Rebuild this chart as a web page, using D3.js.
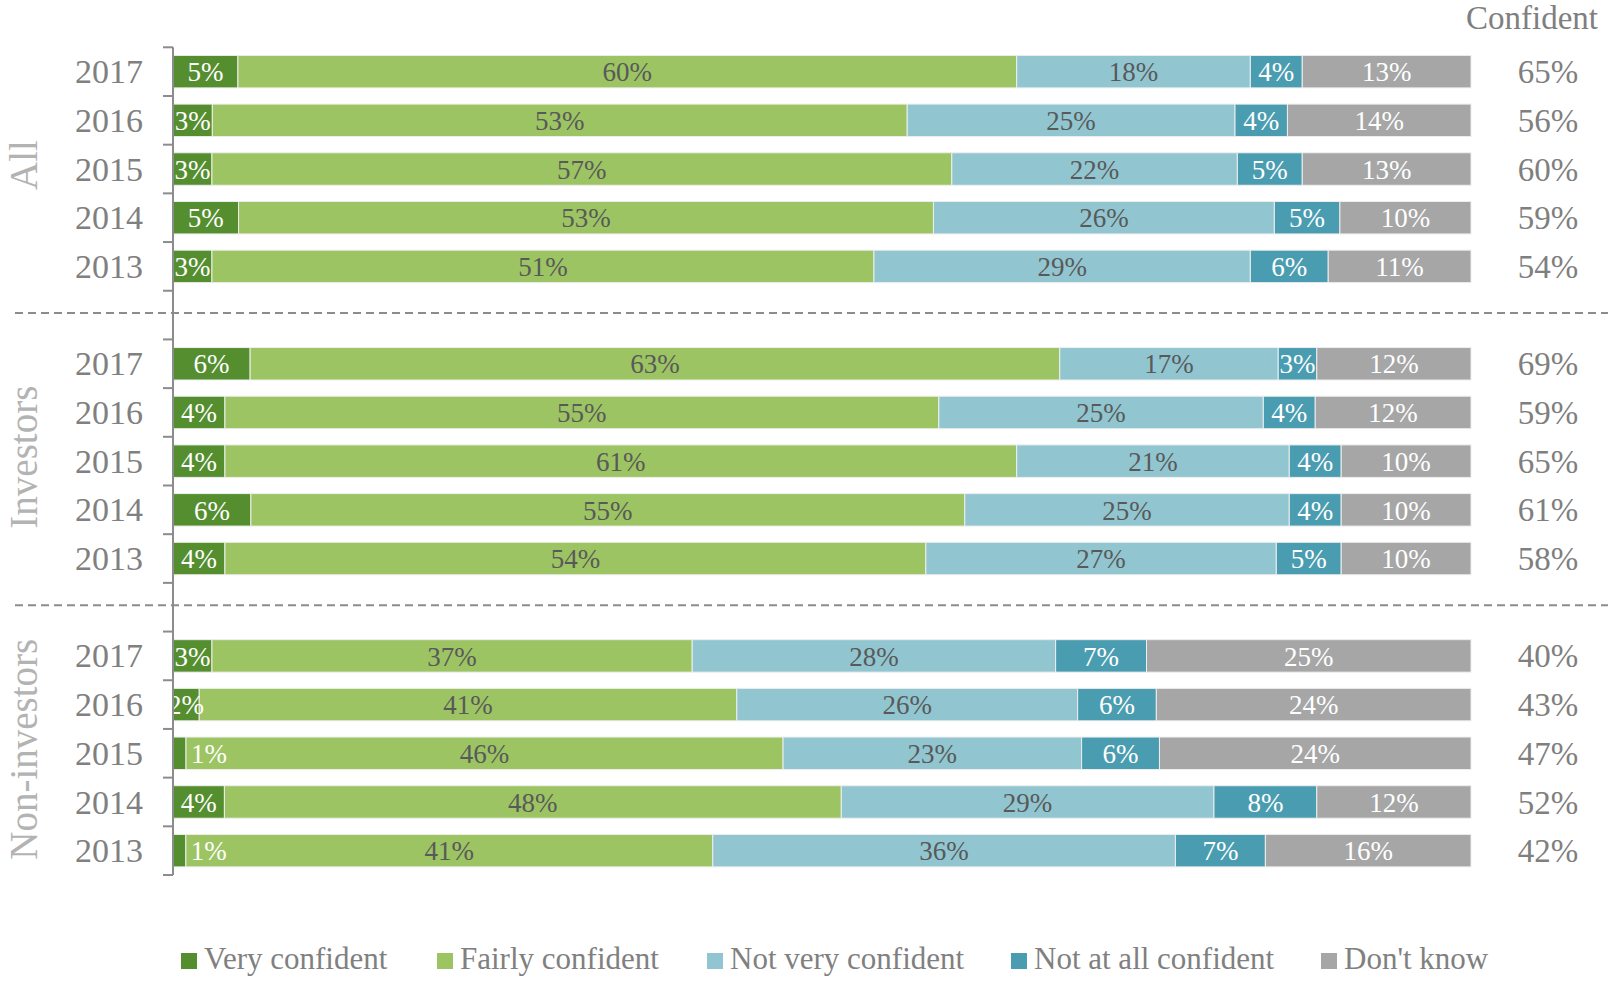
<!DOCTYPE html>
<html>
<head>
<meta charset="utf-8">
<script src="https://cdn.jsdelivr.net/npm/d3@7"></script>
<style>
  html, body { margin: 0; padding: 0; background: #fff; }
  svg { display: block; font-family: "Liberation Serif", "Times New Roman", serif; }
</style>
</head>
<body>
<svg id="chart" width="1608" height="981"></svg>
<script>
// ---------- data ----------
const groups = ["All", "Investors", "Non-investors"];
const years = ["2017", "2016", "2015", "2014", "2013"];
const seriesNames = ["Very confident", "Fairly confident", "Not very confident", "Not at all confident", "Don't know"];
const seriesColors = ["#548e2f", "#9dc463", "#91c6d1", "#4a9db0", "#a6a6a6"];
const labelColors = ["#ffffff", "#595959", "#595959", "#ffffff", "#ffffff"];

// values per row, in the order of `years`, for each group
const veryConfident = {
  "All":           [5, 3, 3, 5, 3],
  "Investors":     [6, 4, 4, 6, 4],
  "Non-investors": [3, 2, 1, 4, 1]
};
const fairlyConfident = {
  "All":           [60, 53, 57, 53, 51],
  "Investors":     [63, 55, 61, 55, 54],
  "Non-investors": [37, 41, 46, 48, 41]
};
const notVeryConfident = {
  "All":           [18, 25, 22, 26, 29],
  "Investors":     [17, 25, 21, 25, 27],
  "Non-investors": [28, 26, 23, 29, 36]
};
const notAtAllConfident = {
  "All":           [4, 4, 5, 5, 6],
  "Investors":     [3, 4, 4, 4, 5],
  "Non-investors": [7, 6, 6, 8, 7]
};
const dontKnow = {
  "All":           [13, 14, 13, 10, 11],
  "Investors":     [12, 12, 10, 10, 10],
  "Non-investors": [25, 24, 24, 12, 16]
};
const confidentTotal = {
  "All":           [65, 56, 60, 59, 54],
  "Investors":     [69, 59, 65, 61, 58],
  "Non-investors": [40, 43, 47, 52, 42]
};
const seriesData = [veryConfident, fairlyConfident, notVeryConfident, notAtAllConfident, dontKnow];

// ---------- build rows (with empty spacer categories between groups) ----------
const categories = [];
const rows = [];
groups.forEach((g, gi) => {
  if (gi > 0) categories.push("gap" + gi);
  years.forEach((y, yi) => {
    const key = g + "|" + y;
    categories.push(key);
    const row = { key, group: g, year: y, confident: confidentTotal[g][yi] };
    seriesNames.forEach((s, si) => { row[s] = seriesData[si][g][yi]; });
    rows.push(row);
  });
});

// ---------- layout ----------
const svg = d3.select("#chart");
const plotLeft = 173, plotRight = 1471, plotTop = 47.3, plotBottom = 875;

const x = d3.scaleLinear().domain([0, 1]).range([plotLeft, plotRight]);
const y = d3.scaleBand().domain(categories).range([plotTop, plotBottom])
  .paddingInner(0.333).paddingOuter(0.1665);
const color = d3.scaleOrdinal().domain(seriesNames).range(seriesColors);
const labelColor = d3.scaleOrdinal().domain(seriesNames).range(labelColors);

const stack = d3.stack().keys(seriesNames).offset(d3.stackOffsetExpand);
const stacked = stack(rows);

// dashed separators (in the middle of spacer categories)
["gap1", "gap2"].forEach(k => {
  const yy = y(k) + y.bandwidth() / 2 - 2;
  svg.append("line")
    .attr("x1", 15).attr("x2", 1608)
    .attr("y1", yy).attr("y2", yy)
    .attr("stroke", "#8c8c8c").attr("stroke-width", 2)
    .attr("stroke-dasharray", "8,5");
});

// bars
const layers = svg.append("g").selectAll("g").data(stacked).join("g")
  .attr("fill", d => color(d.key));
layers.selectAll("rect").data(d => d).join("rect")
  .attr("x", d => x(d[0]))
  .attr("width", d => x(d[1]) - x(d[0]))
  .attr("y", d => y(d.data.key))
  .attr("height", y.bandwidth())
  .attr("stroke", "#eeeeee").attr("stroke-width", 1);

// segment labels
svg.append("defs").append("clipPath").attr("id", "plotclip")
  .append("rect").attr("x", 170).attr("y", 0).attr("width", 1438).attr("height", 981);
const labelG = svg.append("g").attr("clip-path", "url(#plotclip)");
stacked.forEach(layer => {
  labelG.append("g").selectAll("text").data(layer).join("text")
    .attr("x", d => {
      const v = d.data[layer.key];
      return v < 2 ? x(d[1]) + 5 : (x(d[0]) + x(d[1])) / 2;
    })
    .attr("y", d => y(d.data.key) + y.bandwidth() / 2)
    .attr("dy", "0.36em")
    .attr("text-anchor", d => d.data[layer.key] < 2 ? "start" : "middle")
    .attr("font-size", 27)
    .attr("fill", labelColor(layer.key))
    .text(d => d.data[layer.key] + "%");
});

// axis line & boundary ticks
const axisG = svg.append("g");
axisG.append("line")
  .attr("x1", plotLeft).attr("x2", plotLeft)
  .attr("y1", plotTop).attr("y2", plotBottom)
  .attr("stroke", "#8c8c8c").attr("stroke-width", 2);
d3.range(categories.length + 1).forEach(i => {
  const yy = plotTop + i * y.step();
  axisG.append("line")
    .attr("x1", plotLeft - 10).attr("x2", plotLeft)
    .attr("y1", yy).attr("y2", yy)
    .attr("stroke", "#8c8c8c").attr("stroke-width", 2);
});

// year labels via axis
const yearAxis = d3.axisLeft(y).tickSize(0).tickPadding(30)
  .tickFormat(k => k.startsWith("gap") ? "" : k.split("|")[1]);
const ya = svg.append("g").attr("transform", `translate(${plotLeft},0)`).call(yearAxis);
ya.select(".domain").remove();
ya.selectAll("text")
  .attr("font-family", "Liberation Serif, serif")
  .attr("font-size", 34)
  .attr("fill", "#808080")
  .attr("dy", "0.34em");

// group labels (rotated)
groups.forEach(g => {
  const yTop = y(g + "|" + years[0]);
  const yBot = y(g + "|" + years[years.length - 1]) + y.bandwidth();
  const cy = (yTop + yBot) / 2 - 4;
  svg.append("text")
    .attr("transform", `translate(37,${cy}) rotate(-90)`)
    .attr("text-anchor", "middle")
    .attr("font-size", 39)
    .attr("fill", "#b3b3b3")
    .text(g);
});

// confident column
svg.append("text")
  .attr("x", 1532).attr("y", 29)
  .attr("text-anchor", "middle")
  .attr("font-size", 33)
  .attr("fill", "#7f7f7f")
  .text("Confident");
svg.append("g").selectAll("text").data(rows).join("text")
  .attr("x", 1548)
  .attr("y", d => y(d.key) + y.bandwidth() / 2)
  .attr("dy", "0.35em")
  .attr("text-anchor", "middle")
  .attr("font-size", 33)
  .attr("fill", "#7f7f7f")
  .text(d => d.confident + "%");

// legend
const legendX = [181, 437, 707, 1011, 1321];
const legend = svg.append("g").selectAll("g").data(seriesNames).join("g")
  .attr("transform", (d, i) => `translate(${legendX[i]},953)`);
legend.append("rect").attr("width", 16).attr("height", 16).attr("fill", d => color(d));
legend.append("text")
  .attr("x", 23).attr("y", 16)
  .attr("font-size", 31)
  .attr("fill", "#808080")
  .text(d => d);
</script>
</body>
</html>
